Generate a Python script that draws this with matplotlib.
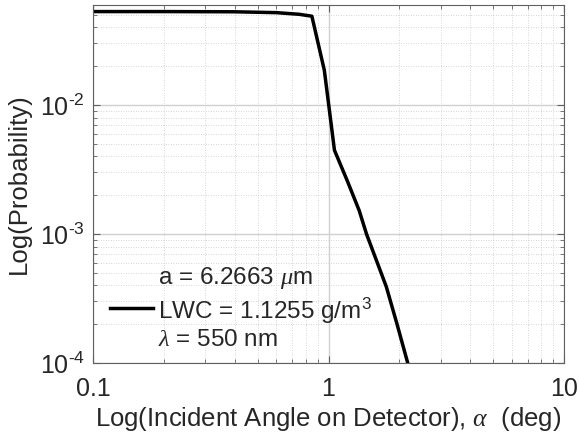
import matplotlib
matplotlib.use("Agg")
import matplotlib.pyplot as plt
from matplotlib.ticker import LogLocator, NullFormatter, FixedLocator, FixedFormatter

plt.rcParams['font.family'] = ['Liberation Sans', 'DejaVu Sans']
plt.rcParams['mathtext.fontset'] = 'custom'
plt.rcParams['mathtext.rm'] = 'Liberation Sans'
plt.rcParams['mathtext.it'] = 'Liberation Serif:italic'
plt.rcParams['mathtext.default'] = 'regular'

# Incident angle (deg) and probability
angle = [0.10, 0.20, 0.40, 0.60, 0.75, 0.85, 0.96, 1.06, 1.20, 1.35, 1.45, 1.60, 1.76, 1.95, 2.17]
prob = [0.0530, 0.0530, 0.0528, 0.0520, 0.0505, 0.0488, 0.0186, 0.00446, 0.00260, 0.00152,
        0.00100, 0.00062, 0.00039, 0.000203, 0.000100]

xticks = [0.1, 1, 10]
xticklabels = ['0.1', '1', '10']
yticks = [1e-4, 1e-3, 1e-2]
yticklabels = ['10$^{\\text{-}4}$', '10$^{\\text{-}3}$', '10$^{\\text{-}2}$']

legend_label = 'a = 6.2663 $\\mathit{\\mu}$m\nLWC = 1.1255 g/m$^3$\n$\\mathit{\\lambda}$ = 550 nm'

fig = plt.figure(figsize=(5.79, 4.38), dpi=100)
ax = fig.add_axes([93 / 579, 1 - 363 / 438, (564 - 93) / 579, (363 - 5) / 438])

ax.plot(angle, prob, color='black', linewidth=2.5, label=legend_label)

ax.set_xscale('log')
ax.set_yscale('log')
ax.set_xlim(0.1, 10)
ax.set_ylim(1e-4, 0.0596)

ax.xaxis.set_major_locator(FixedLocator(xticks))
ax.xaxis.set_major_formatter(FixedFormatter(xticklabels))
ax.yaxis.set_major_locator(FixedLocator(yticks))
ax.yaxis.set_major_formatter(FixedFormatter(yticklabels))
ax.xaxis.set_minor_locator(LogLocator(base=10, subs=range(2, 10), numticks=20))
ax.yaxis.set_minor_locator(LogLocator(base=10, subs=range(2, 10), numticks=20))
ax.xaxis.set_minor_formatter(NullFormatter())
ax.yaxis.set_minor_formatter(NullFormatter())

ax.grid(True, which='major', color='#d0d0d0', linewidth=1.0, linestyle='-')
ax.grid(True, which='minor', color='#c8c8c8', linewidth=0.6, linestyle=(0, (1, 2)))
ax.set_axisbelow(True)

text_color = '#262626'
for s in ax.spines.values():
    s.set_color('#606060')
    s.set_linewidth(0.8)
ax.tick_params(which='both', direction='in', top=True, right=True, colors='#606060',
               labelcolor=text_color, labelsize=18)
ax.tick_params(which='major', length=5)
ax.tick_params(which='minor', length=3)
ax.tick_params(axis='x', pad=10)
ax.tick_params(axis='y', pad=6)

ax.set_xlabel('Log(Incident Angle on Detector), $\\mathit{\\alpha}$  (deg)', fontsize=18.5,
              color=text_color, labelpad=3)
ax.set_ylabel('Log(Probability)', fontsize=18.5, color=text_color, labelpad=6)

leg = ax.legend(loc='lower left', bbox_to_anchor=(-0.011, -0.028), frameon=False, fontsize=17.5,
                handlelength=1.8, handletextpad=0.2, labelcolor=text_color, labelspacing=0.3)

fig.savefig('out.png', dpi=100)
